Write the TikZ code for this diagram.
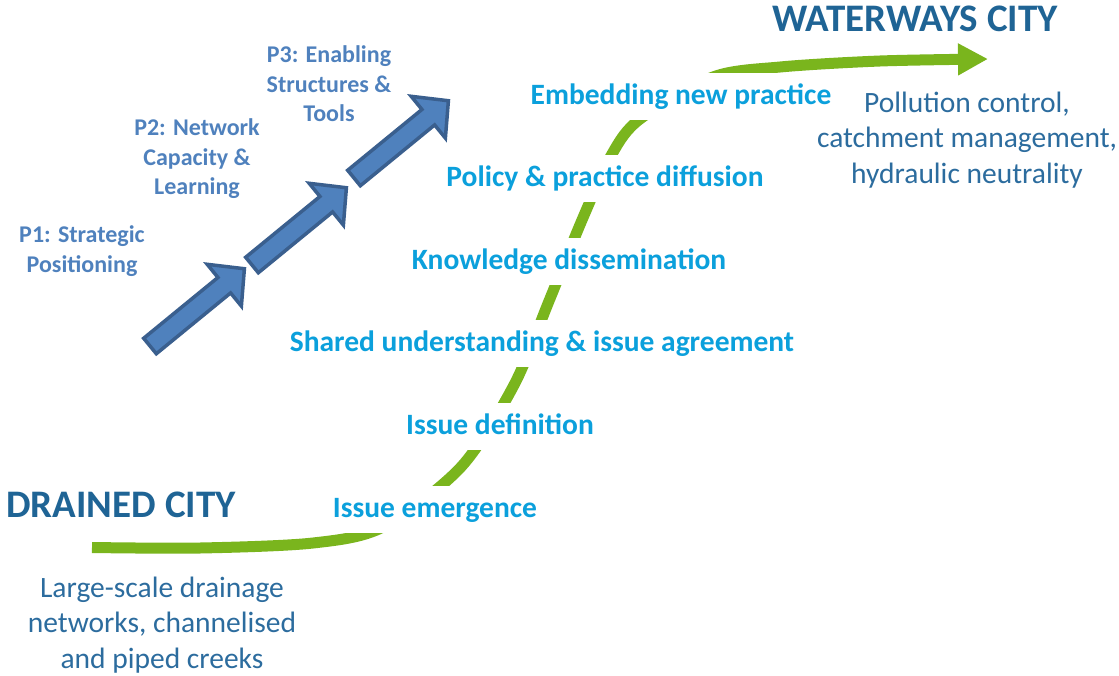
\documentclass[tikz,border=0pt]{standalone}
\usepackage{fontspec}
\setmainfont{Carlito}
\usetikzlibrary{arrows.meta}
\definecolor{headcol}{HTML}{1F6495}
\definecolor{stagecol}{HTML}{0BA0DC}
\definecolor{pcol}{HTML}{4F81BD}
\definecolor{desccol}{HTML}{2C6C9E}
\definecolor{greencol}{HTML}{7AB51D}
\definecolor{arrfill}{HTML}{4F81BD}
\definecolor{arrline}{HTML}{3A5F8E}
\tikzset{
  stage/.style={font=\fontsize{29.5}{31}\selectfont\bfseries, text=stagecol,
    fill=white, minimum height=47pt, inner xsep=5pt, inner ysep=0pt,
    text depth=3pt},
  cityhead/.style={font=\fontsize{39}{41}\selectfont\bfseries, text=headcol, inner sep=0pt},
  desc/.style={font=\fontsize{29.5}{35.5}\selectfont, text=desccol, align=center, inner sep=0pt},
  plabel/.style={font=\fontsize{24}{29.5}\selectfont\bfseries, text=pcol, align=center, inner sep=0pt},
  blockarrow/.style={fill=arrfill, draw=arrline, line width=3.5pt, line join=miter}
}
\newcommand{\stepArrow}[1]{%
  \begin{scope}[shift={#1}, rotate=39.3]
    \filldraw[blockarrow] (0,-10) -- (96,-10) -- (96,-27) -- (122,0)
      -- (96,27) -- (96,10) -- (0,10) -- cycle;
  \end{scope}}
\begin{document}
\begin{tikzpicture}[x=1pt, y=-1pt]
\useasboundingbox (0,0) rectangle (1119,675);

% transition curve from drained city to waterways city
\draw[greencol, line width=11pt, -{Triangle[length=30pt, width=30pt]}]
  plot[smooth, tension=0.5] coordinates {
    (92,547.5) (200,548) (313,543) (383,527) (461,467) (514,385) (549,301)
    (582,220) (612,154) (640,119) (713,77) (780,67) (880,61) (988,59)};

% stage labels sitting on the curve
\node[stage] (s6) at (681,96)  {Embedding new practice};
\node[stage] (s5) at (605,178) {Policy \& practice diffusion};
\node[stage] (s4) at (569,261) {Knowledge dissemination};
\node[stage] (s3) at (542,343) {Shared understanding \& issue agreement};
\node[stage] (s2) at (500,426) {Issue definition};
\node[stage] (s1) at (435,509) {Issue emergence};

% end states
\node[cityhead] (drained) at (121,505) {DRAINED CITY};
\node[cityhead] (waterways) at (915,19) {WATERWAYS CITY};
\node[desc] (dd) at (162,625) {Large-scale drainage\\networks, channelised\\and piped creeks};
\node[desc] (wd) at (967,140) {Pollution control,\\catchment management,\\hydraulic neutrality};

% programme step arrows
\stepArrow{(150,346)}
\stepArrow{(252,265)}
\stepArrow{(354,178)}

\node[plabel] (p1) at (82,251)  {P1: Strategic\\Positioning};
\node[plabel] (p2) at (197,159) {P2: Network\\Capacity \&\\Learning};
\node[plabel] (p3) at (329,84)  {P3: Enabling\\Structures \&\\Tools};
\end{tikzpicture}
\end{document}
